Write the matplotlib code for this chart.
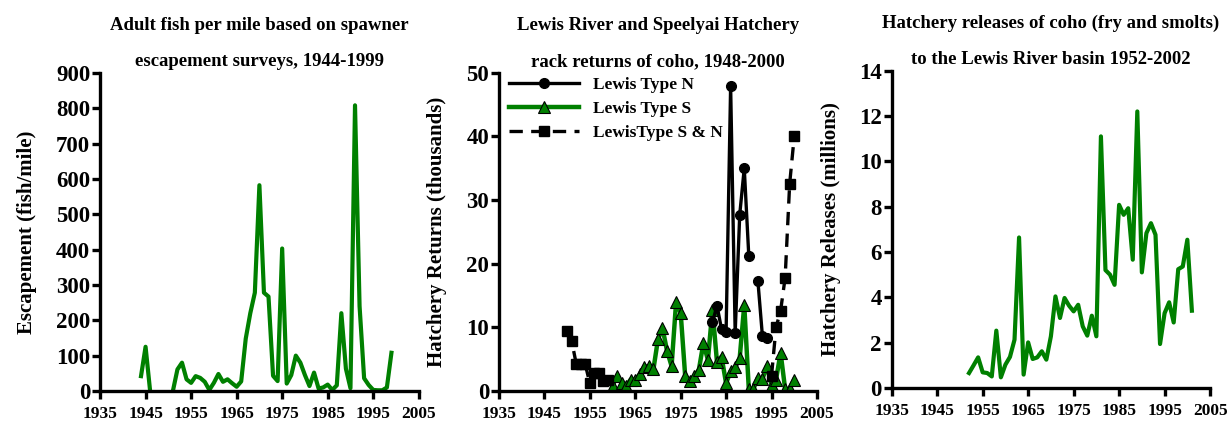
import numpy as np
import matplotlib
matplotlib.use("Agg")
import matplotlib.pyplot as plt

nan = np.nan

# panel 1: escapement (fish/mile)
esc_years = list(range(1944, 2000))
esc_values = [
    42, 125, 0, nan, nan, nan, nan, 0, 61, 80,
    33, 23, 42, 37, 26, 3, 23, 48, 26, 33,
    22, 12, 27, 148, 220, 278, 582, 278, 267, 43,
    28, 403, 21, 45, 100, 80, 45, 14, 52, 7,
    10, 18, 3, 16, 220, 63, 8, 808, 240, 36,
    17, 3, 2, 2, 10, 108,
]

# panel 2: hatchery rack returns (thousands)
n_years = list(range(1982, 1995))
n_values = [10.8, 13.4, 9.7, 9.2, 47.9, 9.1, 27.7, 35.0, 21.2, nan, 17.3, 8.6, 8.4]

s_years = list(range(1960, 2001))
s_values = [
    0.8, 2.4, 1.2, 0.8, 1.8, 1.8, 2.6, 3.8, 3.9, 3.4,
    8.1, 9.9, 6.3, 3.9, 14.0, 12.3, 2.3, 1.6, 2.4, 3.3,
    7.5, 4.9, 12.8, 4.5, 5.4, 1.2, 3.1, 3.7, 5.2, 13.5,
    0.3, 0.3, 2.1, 1.9, 3.9, 1.0, 1.8, 6.0, 0.3, 0.3,
    1.8,
]

sn_years = [1950, 1951, 1952, 1953, 1954, 1955, 1956, 1957, 1958, 1959,
            1960, 1995, 1996, 1997, 1998, 1999, 2000]
sn_values = [9.5, 7.9, 4.3, 4.3, 4.2, 1.2, 2.9, 2.9, 1.6, 1.8,
             nan, 2.4, 10.0, 12.6, 17.8, 32.6, 40.0]

# panel 3: hatchery releases (millions)
rel_years = list(range(1952, 2002))
rel_values = [
    0.66, 1.0, 1.35, 0.69, 0.66, 0.51, 2.53, 0.47, 1.03, 1.37,
    2.13, 6.64, 0.59, 2.01, 1.28, 1.35, 1.62, 1.25, 2.28, 4.04,
    3.09, 3.97, 3.63, 3.38, 3.67, 2.72, 2.31, 3.19, 2.28, 11.1,
    5.2, 5.0, 4.55, 8.08, 7.64, 7.93, 5.66, 12.2, 5.1, 6.83,
    7.27, 6.76, 1.94, 3.3, 3.78, 2.89, 5.24, 5.36, 6.54, 3.41,
]

x_ticks = list(range(1935, 2006, 10))

green = "#008000"

plt.rcParams["font.family"] = "Liberation Serif"
plt.rcParams["font.weight"] = "bold"
plt.rcParams["axes.labelweight"] = "bold"
plt.rcParams["axes.titleweight"] = "bold"


def style_axes(ax, ymax, ystep):
    ax.set_xlim(1935, 2005)
    ax.set_ylim(0, ymax)
    ax.set_xticks(x_ticks)
    ax.set_yticks(np.arange(0, ymax + ystep / 2, ystep))
    for side in ["top", "right"]:
        ax.spines[side].set_visible(False)
    for side in ["left", "bottom"]:
        ax.spines[side].set_linewidth(2.4)
    ax.tick_params(direction="out", length=5.5, width=2.4)
    ax.tick_params(axis="x", labelsize=12.5, pad=5.5)
    ax.tick_params(axis="y", labelsize=16.5, pad=1.5)


fig = plt.figure(figsize=(12.32, 4.22), dpi=100)

ax1 = fig.add_axes([0.0812, 0.0735, 0.2587, 0.754])
ax2 = fig.add_axes([0.4050, 0.0735, 0.2581, 0.754])
ax3 = fig.add_axes([0.7238, 0.0806, 0.2584, 0.752])

title_kw = dict(fontsize=13.5, linespacing=2.45, pad=5)

# panel 1
ax1.plot(esc_years, esc_values, color=green, linewidth=3)
style_axes(ax1, 900, 100)
ax1.set_ylabel("Escapement (fish/mile)", fontsize=15, labelpad=14)
ax1.set_title("Adult fish per mile based on spawner\nescapement surveys, 1944-1999",
              **title_kw)

# panel 2
ax2.plot(s_years, s_values, color=green, linewidth=3.2, marker="^",
         markersize=8, markerfacecolor=green, markeredgecolor="black",
         markeredgewidth=0.8, label="Lewis Type S", zorder=2)
ax2.plot(n_years, n_values, color="black", linewidth=2.4, marker="o",
         markersize=7, label="Lewis Type N", zorder=3)
ax2.plot(sn_years, sn_values, color="black", linewidth=2.4, linestyle=(0, (4, 2.5)),
         marker="s", markersize=7, label="LewisType S & N", zorder=3)
style_axes(ax2, 50, 10)
ax2.set_ylabel("Hatchery Returns (thousands)", fontsize=15, labelpad=14)
ax2.set_title("Lewis River and Speelyai Hatchery\nrack returns of coho, 1948-2000",
              **title_kw)
handles, labels = ax2.get_legend_handles_labels()
order = [1, 0, 2]
ax2.legend([handles[i] for i in order], [labels[i] for i in order],
           loc="upper left", frameon=False, fontsize=12.5, handlelength=4.0,
           borderaxespad=0.2, labelspacing=0.45, handletextpad=0.8,
           bbox_to_anchor=(0.0, 1.02))

# panel 3
ax3.plot(rel_years, rel_values, color=green, linewidth=3)
style_axes(ax3, 14, 2)
ax3.set_ylabel("Hatchery Releases (millions)", fontsize=15, labelpad=13)
ax3.set_title("Hatchery releases of coho (fry and smolts)\nto the Lewis River basin 1952-2002",
              **title_kw)

fig.savefig("out.png", dpi=100)
plt.close(fig)
